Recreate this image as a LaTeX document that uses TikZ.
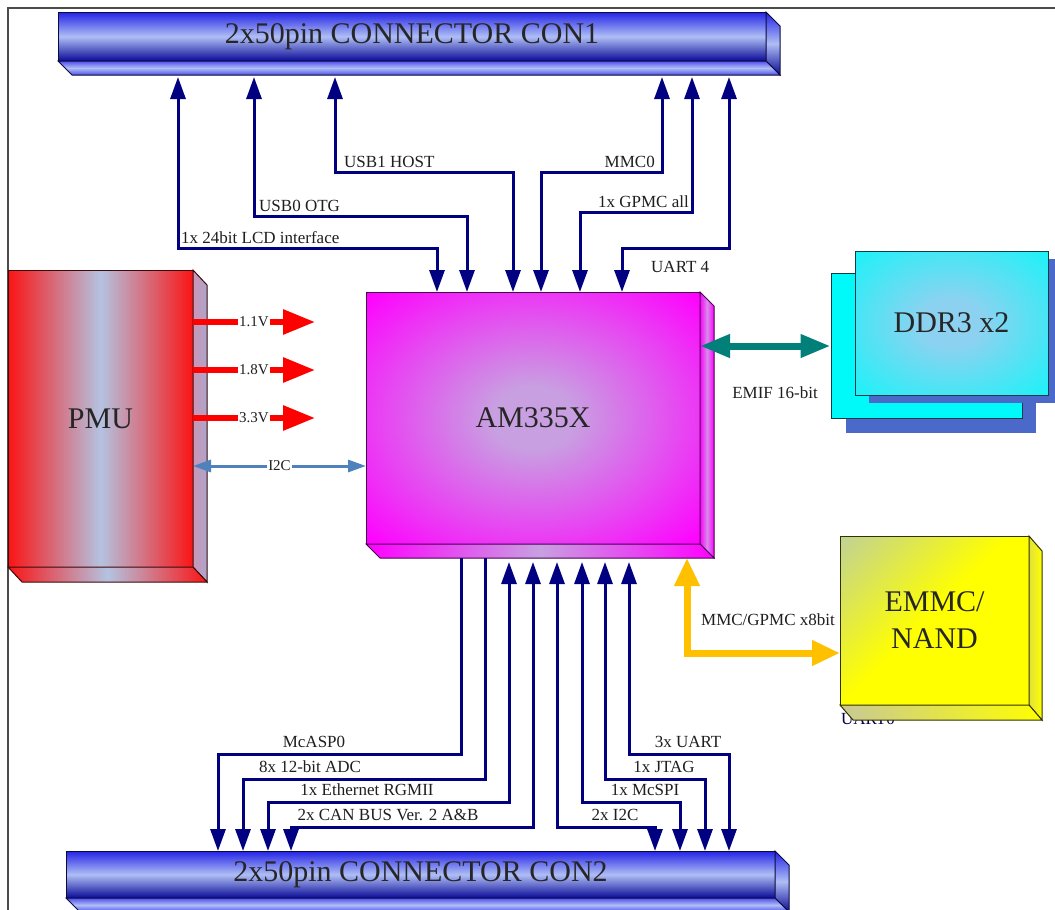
\documentclass[tikz,border=0pt]{standalone}
\usepackage{fontspec}
\setmainfont{Liberation Serif}
\usetikzlibrary{arrows.meta}

\definecolor{conblue}{RGB}{35,35,230}
\definecolor{conlight}{RGB}{175,190,245}
\definecolor{condark}{RGB}{10,10,150}
\definecolor{connline}{RGB}{10,10,60}
\definecolor{pmured}{RGB}{250,20,20}
\definecolor{pmublue}{RGB}{180,195,225}
\definecolor{pmuline}{RGB}{60,10,10}
\definecolor{ammag}{RGB}{255,0,255}
\definecolor{amlight}{RGB}{200,160,225}
\definecolor{amline}{RGB}{70,0,80}
\definecolor{ddrcyan}{RGB}{0,250,250}
\definecolor{ddrlight}{RGB}{140,210,240}
\definecolor{ddrshadow}{RGB}{75,105,200}
\definecolor{ddrline}{RGB}{20,60,70}
\definecolor{emmcyellow}{RGB}{255,255,0}
\definecolor{emmcgray}{RGB}{165,190,215}
\definecolor{emmcline}{RGB}{50,50,0}
\definecolor{navy}{RGB}{0,0,128}
\definecolor{pwrred}{RGB}{255,0,0}
\definecolor{steel}{RGB}{79,129,189}
\definecolor{emifteal}{RGB}{0,128,120}
\definecolor{mmcorange}{RGB}{255,192,0}

\pgfdeclareradialshading{amshade}{\pgfpoint{0bp}{0bp}}{color(0bp)=(amlight); color(6bp)=(amlight); color(35bp)=(ammag); color(50bp)=(ammag)}
\pgfdeclareradialshading{ddrshade}{\pgfpoint{0bp}{0bp}}{color(0bp)=(ddrlight); color(8bp)=(ddrlight); color(42bp)=(ddrcyan); color(50bp)=(ddrcyan)}
\pgfdeclareverticalshading{emmcshade}{100bp}{color(0bp)=(emmcyellow); color(52bp)=(emmcyellow); color(100bp)=(emmcgray)}

\newcommand{\boxfaces}[5]{%
  \path[#4] (#1.north east) -- ([shift={(#2,#3)}]#1.north east) -- ([shift={(#2,#3)}]#1.south east) -- (#1.south east) -- cycle;
  \path[#5] (#1.south west) -- (#1.south east) -- ([shift={(#2,#3)}]#1.south east) -- ([shift={(#2,#3)}]#1.south west) -- cycle;
}

\tikzset{
  bus/.style={draw=navy, line width=3pt},
  both/.style={{Triangle[length=22pt,width=15pt]}-{Triangle[length=22pt,width=15pt]}},
  endtip/.style={-{Triangle[length=22pt,width=15pt]}},
  lbl/.style={font=\fontsize{17}{19}\selectfont, text=black!88, inner sep=1pt},
  vlbl/.style={font=\fontsize{15}{17}\selectfont, text=black!88, fill=white, inner sep=1pt},
  big/.style={font=\fontsize{30}{37}\selectfont, text=black!85, inner sep=0pt, outer sep=0pt, align=center},
  pwr/.style={draw=pwrred, line width=6pt, -{Triangle[length=32pt,width=24pt]}},
  i2c/.style={draw=steel, line width=3pt, {Triangle[length=18pt,width=12pt]}-{Triangle[length=18pt,width=12pt]}},
  emif/.style={draw=emifteal, line width=7pt, {Triangle[length=30pt,width=22pt]}-{Triangle[length=30pt,width=22pt]}},
  mmc/.style={draw=mmcorange, line width=7pt, {Triangle[length=28pt,width=24pt]}-{Triangle[length=28pt,width=24pt]}},
}

\begin{document}
\begin{tikzpicture}[x=1pt,y=-1pt]
\useasboundingbox (0,0) rectangle (1055,910);
\fill[white] (0,0) rectangle (1055,910);
\draw[black!70, line width=1.2pt] (8,910) -- (8,8) -- (1055,8);

% ---------- CON1 ----------
\node[big, draw=connline, line width=1pt, top color=conblue, bottom color=condark, middle color=conlight,
      minimum width=708pt, minimum height=49pt] (con1) at (412,36.5) {2x50pin CONNECTOR CON1};
\boxfaces{con1}{14}{14}{draw=connline, line width=1pt, top color=conblue, bottom color=condark, middle color=conlight}{draw=connline, line width=1pt, top color=conblue!80, bottom color=conblue!80, middle color=conlight}

% ---------- CON2 ----------
\node[big, draw=connline, line width=1pt, top color=conblue, bottom color=condark, middle color=conlight,
      minimum width=709pt, minimum height=47pt] (con2) at (420.5,874.5) {2x50pin CONNECTOR CON2};
\boxfaces{con2}{14}{14}{draw=connline, line width=1pt, top color=conblue, bottom color=condark, middle color=conlight}{draw=connline, line width=1pt, top color=conblue!80, bottom color=conblue!80, middle color=conlight}

% ---------- PMU ----------
\node[big, draw=pmuline, line width=1pt, left color=pmured, right color=pmured, middle color=pmublue,
      minimum width=185pt, minimum height=297pt] (pmu) at (100.5,418.5) {PMU};
\boxfaces{pmu}{14}{15}{draw=pmuline, line width=1pt, left color={rgb,255:red,205;green,150;blue,180}, right color={rgb,255:red,170;green,165;blue,205}}{draw=pmuline, line width=1pt, left color=pmured, right color=pmured, middle color=pmublue}

% ---------- AM335X ----------
\node[big, draw=amline, line width=1pt, shade, shading=amshade,
      minimum width=334pt, minimum height=252pt] (am) at (533,418) {AM335X};
\boxfaces{am}{14}{14}{draw=amline, line width=1pt, left color=ammag, right color=ammag, middle color={rgb,255:red,215;green,140;blue,235}}{draw=amline, line width=1pt, left color=ammag, right color=ammag, middle color=amlight}

% ---------- DDR3 ----------
\fill[ddrshadow] (846,288) rectangle (1036,433);
\node[draw=ddrline, line width=1pt, fill=ddrcyan, minimum width=191pt, minimum height=145pt, inner sep=0pt] (ddrb) at (926.5,345.5) {};
\fill[ddrshadow] (869,259) rectangle (1062,403);
\node[big, draw=ddrline, line width=1pt, shade, shading=ddrshade,
      minimum width=193pt, minimum height=144pt] (ddr) at (951.5,323) {DDR3 x2};

% ---------- EMMC / NAND ----------
\node[lbl, text=black!70!blue] (uart0) at (868,719) {UART0};
\node[big, draw=emmcline, line width=1pt, shade, shading=emmcshade, shading angle=45,
      minimum width=189pt, minimum height=169pt] (emmc) at (934.5,620.5) {EMMC/\\NAND};
\boxfaces{emmc}{13}{15}{draw=emmcline, line width=1pt, left color={rgb,255:red,225;green,225;blue,60}, right color=emmcyellow}{draw=emmcline, line width=1pt, left color={rgb,255:red,200;green,200;blue,150}, right color=emmcyellow}

% ---------- top buses ----------
\coordinate (c1b) at ([shift={(0,16)}]con1.south);
\draw[bus,both] (am.north -| 437,0) -- (437,248) -| (c1b -| 178,0);
\draw[bus,both] (am.north -| 467,0) -- (467,216) -| (c1b -| 254,0);
\draw[bus,both] (am.north -| 513,0) -- (513,172) -| (c1b -| 335,0);
\draw[bus,both] (am.north -| 541,0) -- (541,172) -| (c1b -| 662,0);
\draw[bus,both] (am.north -| 580,0) -- (580,212) -| (c1b -| 692,0);
\draw[bus,both] (am.north -| 622,0) -- (622,248) -| (c1b -| 729,0);

\node[lbl, anchor=base west] (llcd) at (180,243) {1x 24bit LCD interface};
\node[lbl, anchor=base west] (lusb0) at (258,211) {USB0 OTG};
\node[lbl, anchor=base west] (lusb1) at (343,167) {USB1 HOST};
\node[lbl, anchor=base east] (lmmc0) at (656,167) {MMC0};
\node[lbl, anchor=base east] (lgpmc) at (690,207) {1x GPMC all};
\node[lbl, anchor=base west] (luart4) at (650,272) {UART 4};

% ---------- bottom buses ----------
\coordinate (amb0) at ([shift={(0,14)}]am.south);
\coordinate (amb) at ([shift={(0,18)}]am.south);
\draw[bus,endtip] (amb0 -| 461,0) -- (461,754) -| (con2.north -| 218,0);
\draw[bus,endtip] (amb0 -| 485,0) -- (485,779) -| (con2.north -| 243,0);
\draw[bus,both] (amb -| 509,0) -- (509,802) -| (con2.north -| 268,0);
\draw[bus,both] (amb -| 533,0) -- (533,827) -| (con2.north -| 291,0);
\draw[bus,both] (amb -| 557,0) -- (557,827) -| (con2.north -| 655,0);
\draw[bus,both] (amb -| 582,0) -- (582,802) -| (con2.north -| 680,0);
\draw[bus,both] (amb -| 605,0) -- (605,779) -| (con2.north -| 705,0);
\draw[bus,both] (amb -| 629,0) -- (629,754) -| (con2.north -| 729,0);

\node[lbl, anchor=base] (lmcasp) at (314,747) {McASP0};
\node[lbl, anchor=base] (ladc) at (310,772) {8x 12-bit ADC};
\node[lbl, anchor=base] (leth) at (367,795) {1x Ethernet RGMII};
\node[lbl, anchor=base] (lcan) at (388,820) {2x CAN BUS Ver. 2 A\&B};
\node[lbl, anchor=base] (luart) at (688,747) {3x UART};
\node[lbl, anchor=base] (ljtag) at (664,772) {1x JTAG};
\node[lbl, anchor=base] (lspi) at (645,795) {1x McSPI};
\node[lbl, anchor=base] (li2c) at (615,820) {2x I2C};

% ---------- PMU outputs ----------
\coordinate (v1) at (315,322);
\coordinate (v2) at (315,370);
\coordinate (v3) at (315,418);
\draw[pwr] (pmu.east |- v1) -- node[vlbl] {1.1V} (v1);
\draw[pwr] (pmu.east |- v2) -- node[vlbl] {1.8V} (v2);
\draw[pwr] (pmu.east |- v3) -- node[vlbl] {3.3V} (v3);
\draw[i2c] (pmu.east |- 0,466) -- node[vlbl] {I2C} (am.west |- 0,466);

% ---------- memory links ----------
\draw[emif] (am.east |- 0,346) -- (ddrb.west |- 0,346);
\node[lbl] (lemif) at (775,393) {EMIF 16-bit};
\draw[mmc] (amb0 -| 687,0) |- (emmc.west |- 0,653);
\node[lbl] (lmmc) at (768,620) {MMC/GPMC x8bit};
\end{tikzpicture}
\end{document}
